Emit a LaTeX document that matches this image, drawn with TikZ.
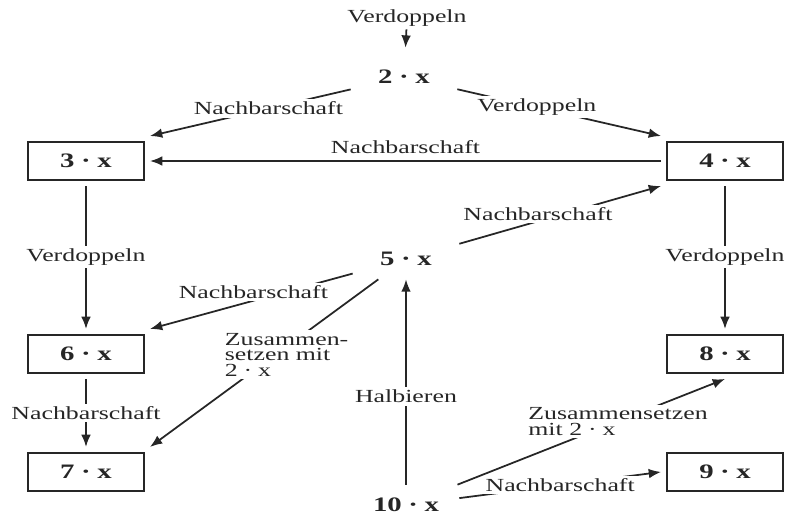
\documentclass[tikz,border=0pt]{standalone}
\usepackage{fontspec}
\setmainfont{Liberation Serif}[FakeStretch=1.4]
\usepackage{tikz}
\usetikzlibrary{arrows.meta, positioning}
\newcommand{\mal}{\hspace{0.32em}·\hspace{0.32em}}

\begin{document}
\begin{tikzpicture}[
    x=0.02cm, y=-0.02cm, color=black!85,
    node distance=2.86cm and 1cm,
    box/.style={rectangle, draw=black!85, line width=0.8pt, minimum width=2.32cm, minimum height=0.76cm, inner sep=0pt, outer sep=0.12cm, font=\fontsize{11.7}{14}\selectfont\bfseries},
    term/.style={rectangle, minimum width=2.12cm, minimum height=0.8cm, inner sep=0pt, font=\fontsize{11.7}{14}\selectfont\bfseries},
    lbl/.style={fill=white, inner sep=1.5pt, align=left, font=\fontsize{10.5}{9}\selectfont},
    arrow/.style={-{Latex[length=7pt, width=5.5pt]}, line width=1pt, draw=black!85}
]
\useasboundingbox (0,0) rectangle (786,515);
\node (vtop) [lbl] at (407,18) {Verdoppeln};
\node (x2) [term] at (404,77) {2\mal x};
\node (x3) [box] at (86,161) {3\mal x};
\node (x4) [box] at (725,161) {4\mal x};
\node (x5) [term] at (406,259) {5\mal x};
\node (x6) [box, below=of x3] {6\mal x};
\node (x7) [box, below=1.36cm of x6] {7\mal x};
\node (x8) [box, below=of x4] {8\mal x};
\node (x9) [box, below=1.36cm of x8] {9\mal x};
\node (x10) [term] at (406,505) {10\mal x};
\draw [arrow, shorten >=0.18cm] (vtop) -- (x2);
\draw [arrow] (x2) -- node[lbl, pos=0.41] {Nachbarschaft} (x3.north east);
\draw [arrow] (x2) -- node[lbl, pos=0.39] {Verdoppeln} (x4.north west);
\draw [arrow] (x4) -- node[lbl, above=2pt] {Nachbarschaft} (x3);
\draw [arrow] (x5) -- node[lbl, pos=0.39, yshift=0.14cm] {Nachbarschaft} (x4.south west);
\draw [arrow] (x3) -- node[lbl] {Verdoppeln} (x6);
\draw [arrow] (x4) -- node[lbl] {Verdoppeln} (x8);
\draw [arrow] (x5) -- node[lbl, pos=0.49, yshift=0.18cm] {Nachbarschaft} (x6.north east);
\draw [arrow] (x5) -- node[lbl, pos=0.45, xshift=0.22cm] {Zusammen-\\setzen mit\\2\mal x} (x7.north east);
\draw [arrow] (x6) -- node[lbl] {Nachbarschaft} (x7);
\draw [arrow] (x10) -- node[lbl, pos=0.43] {Halbieren} (x5);
\draw [arrow] (x10) -- node[lbl, pos=0.6] {Zusammensetzen\\mit 2\mal x} (x8.south);
\draw [arrow] (x10) -- node[lbl] {Nachbarschaft} (x9.west);
\end{tikzpicture}
\end{document}
